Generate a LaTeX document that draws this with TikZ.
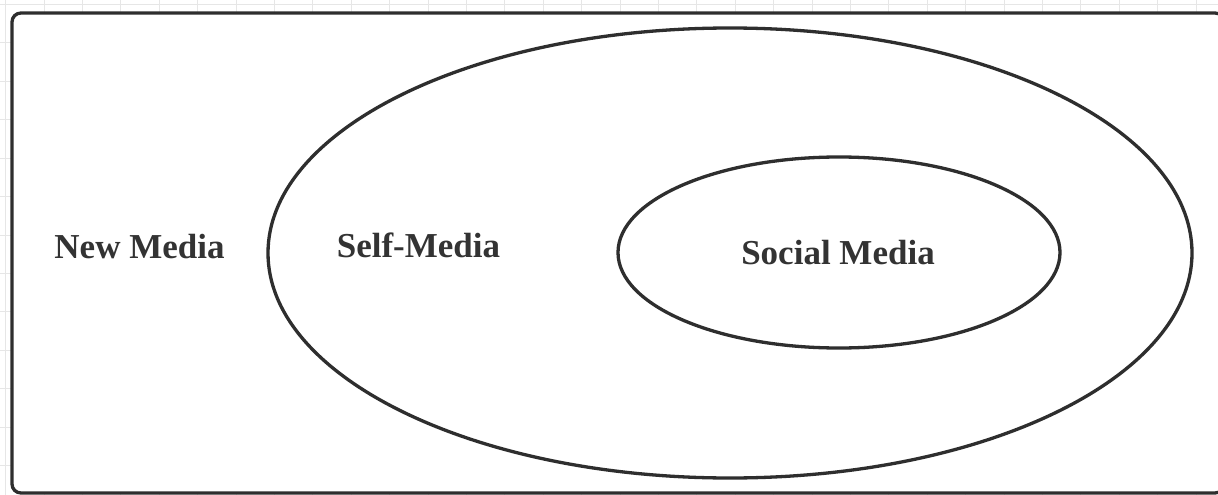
\documentclass[tikz,border=0pt]{standalone}
\usepackage{fontspec}
\setmainfont{Liberation Serif}
\usetikzlibrary{shapes.geometric}

\definecolor{inkdark}{HTML}{2E2E2E}
\definecolor{textdark}{HTML}{333333}
\definecolor{gridgray}{HTML}{E6E6E6}

\tikzset{
  label text/.style={font=\fontsize{35}{41}\selectfont\bfseries, text=textdark, anchor=base, inner sep=0pt},
  set line/.style={draw=inkdark, line width=3.3pt}
}

\begin{document}
\begin{tikzpicture}[x=1pt, y=-1pt]
  \useasboundingbox (0,0) rectangle (1218,495);

  % faint page grid behind the frame
  \foreach \gx in {5.6,44,...,1218}
    \draw[gridgray, line width=1pt] (\gx,0) -- (\gx,495);
  \foreach \gy in {4.6,43,...,495}
    \draw[gridgray, line width=1pt] (0,\gy) -- (1218,\gy);

  % outer frame = New Media
  \filldraw[set line, fill=white, rounded corners=9pt] (12,13) rectangle (1224,493);

  % Self-Media ellipse
  \draw[set line] (730,253) ellipse [x radius=462, y radius=225];

  % Social Media ellipse
  \node[set line, ellipse, minimum width=442pt, minimum height=191pt, inner sep=0pt]
    (social) at (839,252.5) {};

  \node[label text] (newmedia) at (139.5,258) {New Media};
  \node[label text] (selfmedia) at (418.5,257) {Self-Media};
  \node[label text] (socialtext) at (838,264) {Social Media};
\end{tikzpicture}
\end{document}
